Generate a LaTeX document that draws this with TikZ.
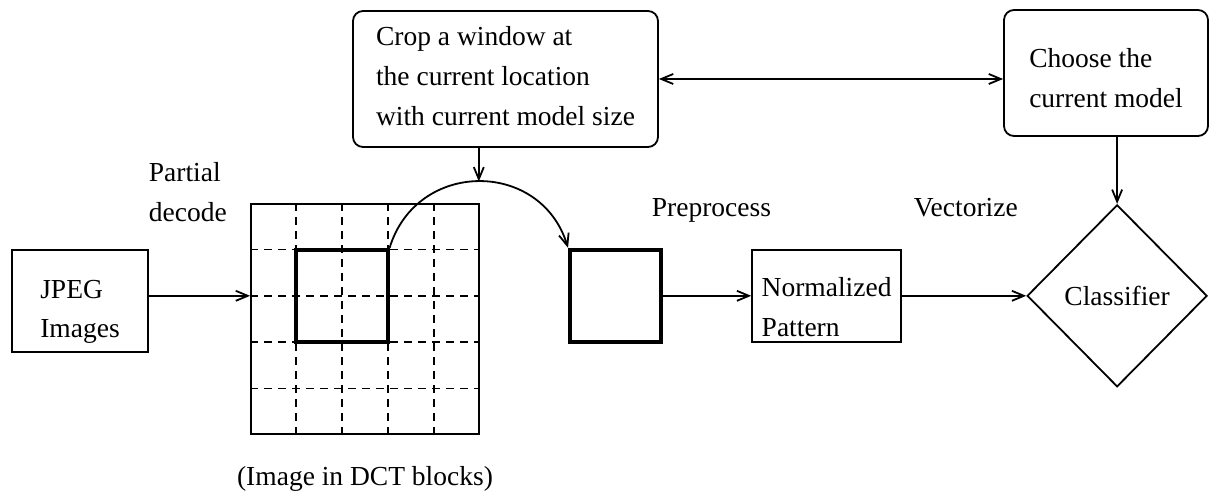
\documentclass[tikz,border=0pt]{standalone}
\usepackage{fontspec}
\setmainfont{Liberation Serif}
\usetikzlibrary{arrows.meta,positioning,calc,shapes.geometric}

\begin{document}
\begin{tikzpicture}[
  x=0.5pt, y=0.5pt,
  font=\fontsize{13.75}{20}\selectfont,
  line width=0.9pt,
  box/.style={draw, align=left, inner sep=0pt, text depth=0pt},
  rbox/.style={box, rounded corners=5pt},
  win/.style={draw, line width=2pt, minimum width=45.6pt, minimum height=46pt, inner sep=0pt},
  blk/.style={dash pattern=on 4pt off 3pt},
  arr/.style={-{Straight Barb[length=6pt,width=5pt]}},
  dbl/.style={{Straight Barb[length=6pt,width=5pt]}-{Straight Barb[length=6pt,width=5pt]}},
  lab/.style={align=left, inner sep=0pt}
]
\useasboundingbox (0,0) rectangle (1209,-496);

% ---- Input images ----
\node[box, text height=37pt, minimum width=68pt, minimum height=51pt] (jpeg) at (80,-301) {JPEG\\Images};

% ---- Image in DCT blocks ----
\node[draw, minimum width=114pt, minimum height=115pt, inner sep=0pt] (grid) at (365,-319) {};
\foreach \i in {1,...,4}
  {\draw[blk] ($(grid.north west)!\i/5!(grid.north east)$) -- ($(grid.south west)!\i/5!(grid.south east)$);
   \draw[blk] ($(grid.north west)!\i/5!(grid.south west)$) -- ($(grid.north east)!\i/5!(grid.south east)$);}
\node[win] (win) at ($(grid.north west)!0.4!(grid.south east)$) {};
\node[lab, anchor=base] (cap) at (365,-485) {(Image in DCT blocks)};
\node[lab, anchor=base west] (pd) at (148,-222) {Partial\\decode};

% ---- Top row: window and model ----
\node[rbox, text height=47pt, minimum width=152.5pt, minimum height=68pt] (sel) at (505.5,-79)
  {Crop a window at\\the current location\\with current model size};
\node[rbox, text height=35pt, minimum width=102pt, minimum height=63pt] (choose) at (1106,-73)
  {Choose the\\current model};

% ---- Pipeline ----
\node[win, right=89.2pt of win] (crop) {};
\node[box, text height=41pt, right=44pt of crop, minimum width=74.5pt, minimum height=46pt] (np) {Normalized\\Pattern};
\node[draw, diamond, aspect=1, inner sep=0pt, minimum width=90pt, minimum height=91pt, right=62.1pt of np] (cls) {Classifier};
\node[lab, anchor=base west] (pp) at (651,-217) {Preprocess};
\node[lab, anchor=base west] (vz) at (913,-217) {Vectorize};

% ---- Connectors ----
\draw[arr] (jpeg.east |- win) -- (grid.west |- win);
\draw[arr] (win.north east) to[out=73, in=107, looseness=1.33] coordinate[pos=0.5] (peak) (crop.north west);
\draw[arr] (sel.south -| peak) -- (peak);
\draw[arr] (crop) -- (np);
\draw[arr] (np) -- (cls);
\draw[dbl] (sel.east) -- (sel.east -| choose.west);
\draw[arr] (choose.south -| cls) -- (cls.north);

\end{tikzpicture}
\end{document}
